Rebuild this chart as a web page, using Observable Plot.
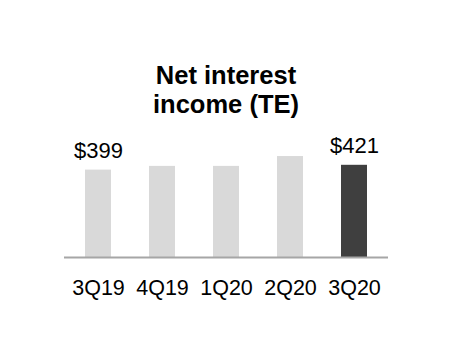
<!DOCTYPE html>
<html>
<head>
<meta charset="utf-8">
<script src="https://cdn.jsdelivr.net/npm/d3@7"></script>
<script src="https://cdn.jsdelivr.net/npm/@observablehq/plot@0.6"></script>
<style>
  html, body { margin: 0; padding: 0; background: #fff; }
  #wrap { position: relative; width: 452px; height: 360px; overflow: hidden; font-family: "Liberation Sans", Arial, sans-serif; }
  #title { position: absolute; left: 0; top: 61px; width: 452px; text-align: center; font-size: 25.5px; font-weight: bold; line-height: 28.5px; color: #000; }
  #chart { position: absolute; left: 0; top: 0; }
</style>
</head>
<body>
<div id="wrap">
  <div id="chart"></div>
  <div id="title">Net interest<br>income (TE)</div>
</div>
<script>
const quarters = ["3Q19", "4Q19", "1Q20", "2Q20", "3Q20"];
const values = [399, 416, 416, 461, 421];
const valueLabels = ["$399", "", "", "", "$421"];
const barColors = ["#d9d9d9", "#d9d9d9", "#d9d9d9", "#d9d9d9", "#3f3f3f"];

const data = quarters.map((q, i) => ({q, v: values[i], label: valueLabels[i], color: barColors[i]}));

const plot = Plot.plot({
  width: 452,
  height: 360,
  marginLeft: 44.5,
  marginRight: 44.5,
  marginTop: 147.5,
  marginBottom: 103,
  style: {fontFamily: '"Liberation Sans", Arial, sans-serif', fontSize: "22px", color: "#000", background: "#fff"},
  x: {domain: quarters, padding: 0.6, label: null},
  y: {domain: [0, 500], axis: null},
  marks: [
    Plot.barY(data, {x: "q", y: "v", fill: "color"}),
    Plot.ruleY([0], {stroke: "#a6a6a6", strokeWidth: 2, insetLeft: 19.5, insetRight: 19.5}),
    Plot.text(data.filter(d => d.label), {x: "q", y: "v", text: "label", lineAnchor: "bottom", dy: -12.5, fill: "#000", fontSize: 22}),
    Plot.axisX({tickSize: 0, tickPadding: 22.5, fontSize: 21.5, fill: "#000", label: null})
  ]
});
document.getElementById("chart").appendChild(plot);
</script>
</body>
</html>
